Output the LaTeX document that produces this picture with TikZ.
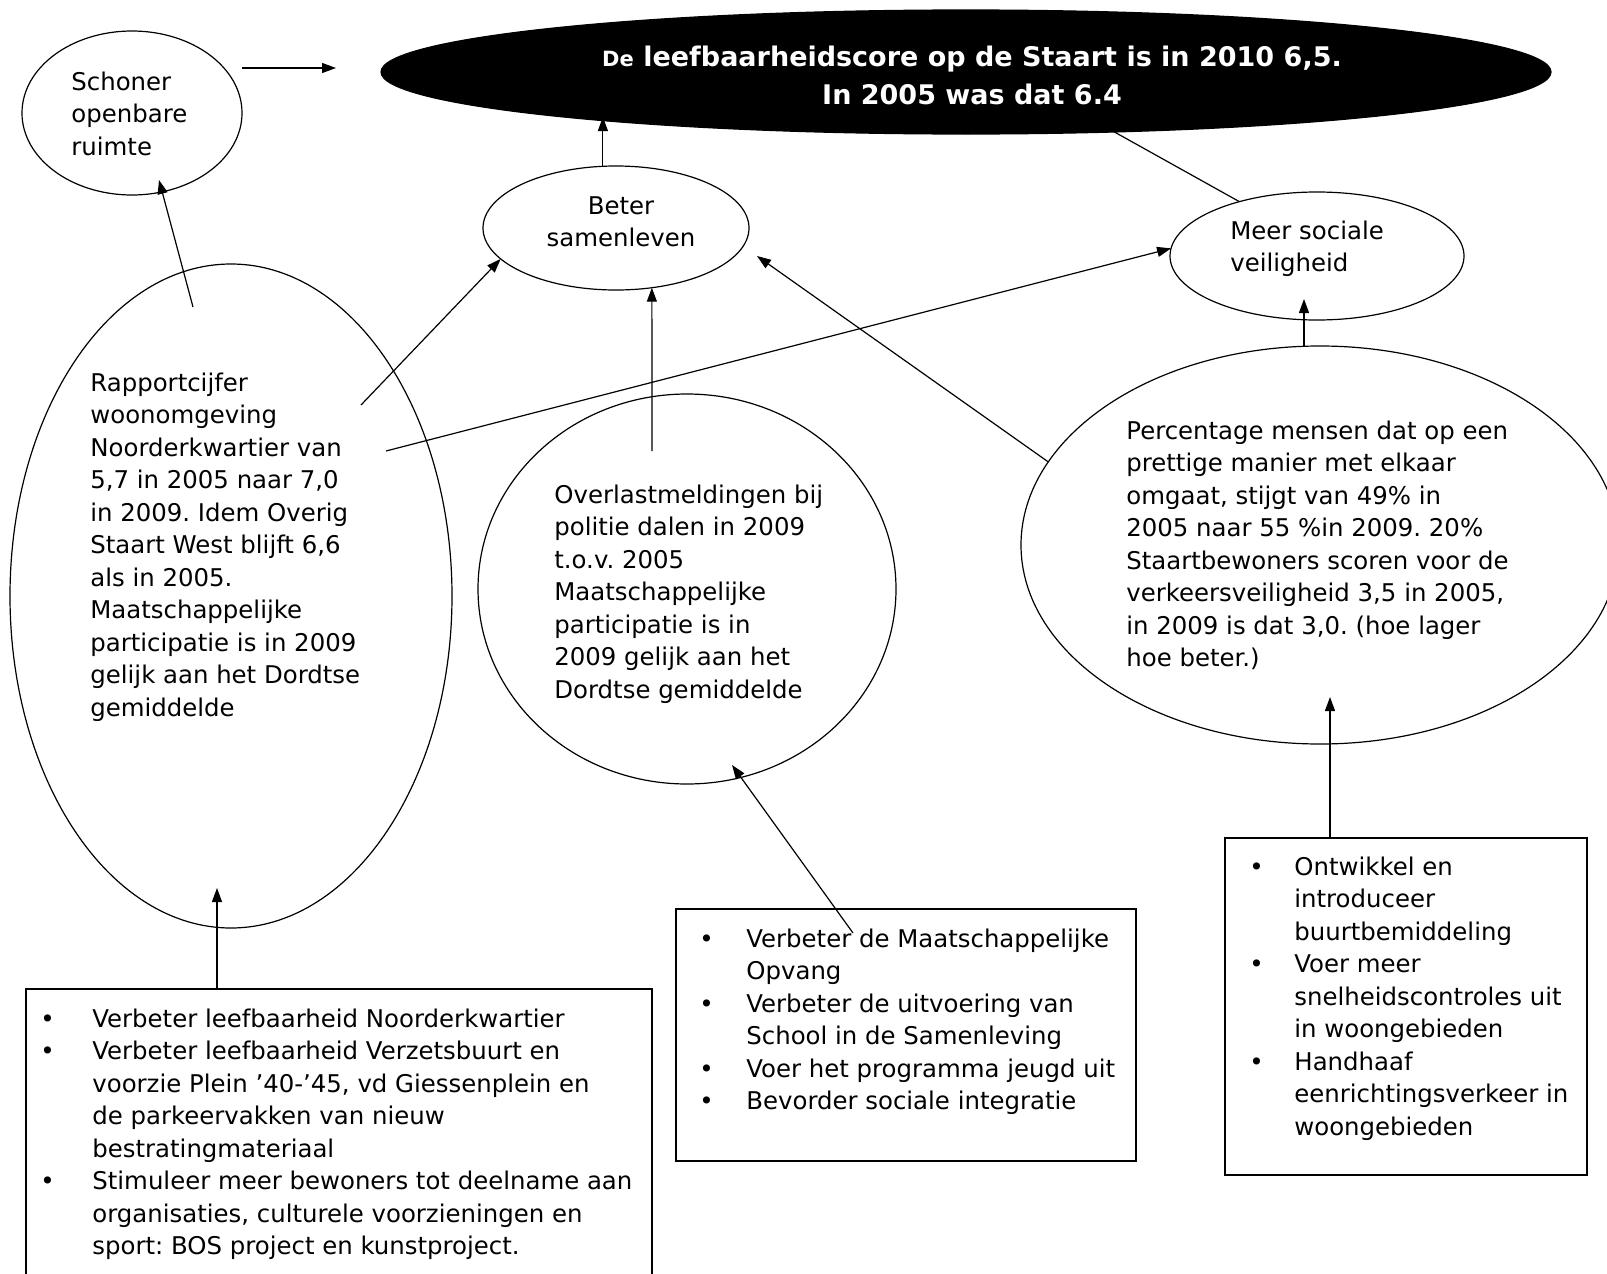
\documentclass[tikz,border=0pt]{standalone}
\usepackage{fontspec}
\setmainfont{DejaVu Sans}
\usepackage{tikz}
\usetikzlibrary{arrows.meta, shapes.geometric}

\frenchspacing
\newcommand{\bodyfont}{\fontsize{12.2pt}{16.25pt}\selectfont}
\newcommand{\titlefont}{\fontsize{13.5pt}{19pt}\selectfont\bfseries}
\newcommand{\textlines}[2][l]{\begin{tabular}[t]{@{}#1@{}}#2\end{tabular}}
\newcommand{\bulletlines}[2]{\begin{tabular}[t]{@{}p{#1}@{}l@{}}#2\end{tabular}}

\begin{document}
\begin{tikzpicture}[x=0.5pt, y=-0.5pt, >={Triangle[length=7pt, width=5pt]},
    blob/.style={draw, ellipse, inner sep=0pt, outer sep=0pt, line width=0.6pt},
    textblock/.style={inner sep=0pt, anchor=base west, font=\bodyfont},
    actionbox/.style={draw, line width=0.6pt, inner sep=0pt, outer sep=0pt},
    link/.style={->, line width=0.6pt}]
    \useasboundingbox (0,0) rectangle (1607,1274);
    \clip (0,0) rectangle (1607,1274);

    \node[blob, fill=black, minimum width=585pt, minimum height=62pt] (title) at (966,72) {};
    \node[font=\titlefont, text=white, inner sep=0pt, anchor=base] (titletext) at (972,66)
        {\textlines[c]{{\fontsize{10.5pt}{19pt}\selectfont De} leefbaarheidscore op de Staart is in 2010 6,5.\\In 2005 was dat 6.4}};

    \node[blob, minimum width=110pt, minimum height=82pt] (schoner) at (132,113) {};
    \node[blob, minimum width=133pt, minimum height=62pt] (beter) at (616,228) {};
    \node[blob, minimum width=147pt, minimum height=64pt] (veilig) at (1317,256) {};
    \node[blob, minimum width=221pt, minimum height=332pt] (rapport) at (231,596) {};
    \node[blob, minimum width=209pt, minimum height=195pt] (overlast) at (687,589) {};
    \node[blob, minimum width=299pt, minimum height=199pt] (prettig) at (1320,545) {};

    \node[actionbox, minimum width=313pt, minimum height=156pt] (lbox) at (339,1145) {};
    \node[actionbox, minimum width=230pt, minimum height=126pt] (mbox) at (906,1035) {};
    \node[actionbox, minimum width=181pt, minimum height=168.5pt] (rbox) at (1406,1006.5) {};

    \node[textblock] (schonertext) at (71,90) {\textlines{Schoner\\openbare\\ruimte}};
    \node[textblock, anchor=base] (betertext) at (621,214) {\textlines[c]{Beter\\samenleven}};
    \node[textblock] (veiligtext) at (1230,239) {\textlines{Meer sociale\\veiligheid}};
    \node[textblock] (rapporttext) at (90,391) {\textlines{Rapportcijfer\\woonomgeving\\Noorderkwartier van\\5,7 in 2005 naar 7,0\\in 2009. Idem Overig\\Staart West blijft 6,6\\als in 2005.\\Maatschappelijke\\participatie is in 2009\\gelijk aan het Dordtse\\gemiddelde}};
    \node[textblock] (overlasttext) at (554,503) {\textlines{Overlastmeldingen bij\\politie dalen in 2009\\t.o.v. 2005\\Maatschappelijke\\participatie is in\\2009 gelijk aan het\\Dordtse gemiddelde}};
    \node[textblock] (prettigtext) at (1126,439) {\textlines{Percentage mensen dat op een\\prettige manier met elkaar\\omgaat, stijgt van 49\% in\\2005 naar 55 \%in 2009. 20\%\\Staartbewoners scoren voor de\\verkeersveiligheid 3,5 in 2005,\\in 2009 is dat 3,0. (hoe lager\\hoe beter.)}};

    \node[textblock] (llist) at (40,1027) {\bulletlines{26pt}{\textbullet & Verbeter leefbaarheid Noorderkwartier\\
        \textbullet & Verbeter leefbaarheid Verzetsbuurt en\\ & voorzie Plein ’40-’45, vd Giessenplein en\\ & de parkeervakken van nieuw\\ & bestratingmateriaal\\
        \textbullet & Stimuleer meer bewoners tot deelname aan\\ & organisaties, culturele voorzieningen en\\ & sport: BOS project en kunstproject.}};
    \node[textblock] (mlist) at (699,947) {\bulletlines{23.5pt}{\textbullet & Verbeter de Maatschappelijke\\ & Opvang\\
        \textbullet & Verbeter de uitvoering van\\ & School in de Samenleving\\
        \textbullet & Voer het programma jeugd uit\\
        \textbullet & Bevorder sociale integratie}};
    \node[textblock] (rlist) at (1249,875) {\bulletlines{22.5pt}{\textbullet & Ontwikkel en\\ & introduceer\\ & buurtbemiddeling\\
        \textbullet & Voer meer\\ & snelheidscontroles uit\\ & in woongebieden\\
        \textbullet & Handhaaf\\ & eenrichtingsverkeer in\\ & woongebieden}};

    \coordinate (gap) at (336,68);
    \coordinate (titlein) at (603,117);
    \coordinate (schonerin) at (159,180);
    \coordinate (beterout) at (757,256);
    \coordinate (rapportout) at (193,307);
    \coordinate (rapportmid) at (361,405);
    \coordinate (rapportlow) at (386,451);
    \coordinate (overlastout) at (652,451);
    \coordinate (mboxout) at (853,933);
    \coordinate (overlastin) at (732,765);
    \coordinate (rapportin) at (217,888);
    \coordinate (prettigin) at (1330,697);
    \coordinate (veiligin) at (1304,299);

    \draw[link] (gap -| schoner.east) -- (gap);
    \draw[link] (beter.102) -- (beter.102 |- titlein);
    \draw[line width=0.6pt] (title.338) -- (veilig.145);
    \draw[link] (rapportout) -- (schonerin);
    \draw[link] (rapportmid) -- (beter.195);
    \draw[link] (rapportlow) -- (veilig.177);
    \draw[link] (overlastout) -- (beter.301);
    \draw[link] (prettig.163) -- (beterout);
    \draw[link] (veiligin |- prettig.north) -- (veiligin);
    \draw[link] (rapportin |- lbox.north) -- (rapportin);
    \draw[link] (mboxout) -- (overlastin);
    \draw[link] (prettigin |- rbox.north) -- (prettigin);
\end{tikzpicture}
\end{document}
